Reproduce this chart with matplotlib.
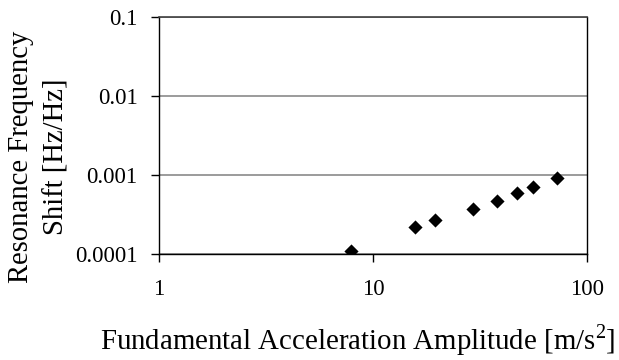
import matplotlib.pyplot as plt

# acceleration amplitude [m/s^2] and frequency shift [Hz/Hz]
accel = [7.86, 15.6, 19.4, 29.3, 37.7, 46.7, 55.9, 72.4]
shift = [0.000111, 0.000221, 0.000268, 0.000373, 0.000471, 0.000600, 0.000714, 0.00091]

xticks = [1, 10, 100]
xticklabels = ['1', '10', '100']
yticks = [0.0001, 0.001, 0.01, 0.1]
yticklabels = ['0.0001', '0.001', '0.01', '0.1']

plt.rcParams['font.family'] = ['Liberation Serif', 'DejaVu Serif']
plt.rcParams['mathtext.fontset'] = 'custom'
plt.rcParams['mathtext.rm'] = 'Liberation Serif'

fig = plt.figure(figsize=(6.19, 3.6), dpi=100)
ax = fig.add_axes([0.257, 0.294, 0.692, 0.66])

ax.scatter(accel, shift, marker='D', s=52, color='black', linewidths=0, zorder=3)

ax.set_xscale('log')
ax.set_yscale('log')
ax.set_xlim(1, 100)
ax.set_ylim(0.0001, 0.1)
ax.set_xticks(xticks)
ax.set_xticklabels(xticklabels)
ax.set_yticks(yticks)
ax.set_yticklabels(yticklabels)
ax.minorticks_off()

ax.grid(True, axis='y', color='#808080', linewidth=1.1)
ax.spines['top'].set_color('#404040')
ax.spines['top'].set_linewidth(1.2)
for s in ['left', 'bottom', 'right']:
    ax.spines[s].set_linewidth(1.0)

ax.tick_params(axis='both', direction='out', length=6, labelsize=16.5, width=1)
ax.tick_params(axis='x', pad=12)
ax.tick_params(axis='y', pad=9.5)

fig.text(357.8 / 619, 1 - 349.3 / 360, r'Fundamental Acceleration Amplitude [m/s$^\mathrm{2}$]',
         fontsize=20.8, ha='center', va='baseline')
fig.text(39 / 619, 1 - 156.5 / 360, 'Resonance Frequency\nShift [Hz/Hz]',
         fontsize=20.6, ha='center', va='center', rotation=90, linespacing=1.45)

plt.savefig('out.png', dpi=100)
